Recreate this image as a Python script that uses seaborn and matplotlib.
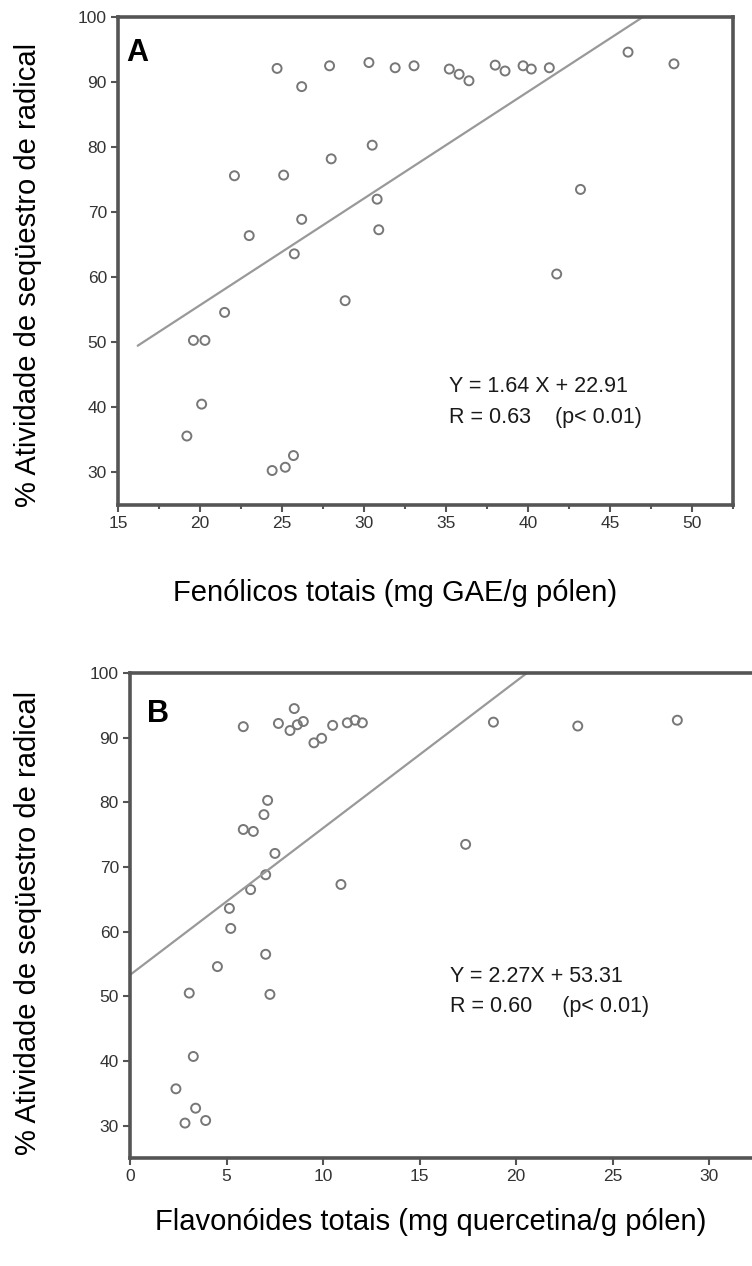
import matplotlib
matplotlib.use("Agg")
import matplotlib.pyplot as plt
import seaborn as sns
import numpy as np
import pandas as pd
from matplotlib.ticker import MultipleLocator

# ---------------- data ----------------
fenolicos = [24.7, 26.2, 27.9, 30.3, 31.9, 33.05, 30.5, 28.0, 22.1, 25.1, 30.8, 26.2,
             30.9, 23.0, 25.75, 28.85, 21.5, 19.6, 20.3, 20.1, 19.2, 24.4, 25.2, 25.7,
             35.2, 35.8, 36.4, 38.0, 38.6, 39.7, 40.2, 41.3, 46.1, 48.9, 43.2, 41.75]
atividade_A = [92.1, 89.3, 92.5, 93.0, 92.2, 92.5, 80.3, 78.2, 75.6, 75.7, 72.0, 68.9,
               67.3, 66.4, 63.6, 56.4, 54.6, 50.3, 50.3, 40.5, 35.6, 30.3, 30.8, 32.6,
               92.0, 91.2, 90.2, 92.6, 91.7, 92.5, 92.0, 92.2, 94.6, 92.8, 73.5, 60.5]

flavonoides = [5.87, 7.69, 8.51, 8.29, 8.67, 8.98, 9.53, 9.93, 10.5, 11.26, 11.66, 12.04,
               7.13, 6.94, 5.87, 6.39, 7.51, 7.03, 6.25, 10.93, 5.15, 5.22, 7.03, 4.53,
               3.07, 7.25, 3.28, 2.38, 3.4, 2.85, 3.92, 18.83, 23.2, 28.36, 17.39]
atividade_B = [91.7, 92.2, 94.5, 91.1, 92.0, 92.5, 89.2, 89.9, 91.9, 92.3, 92.7, 92.3,
               80.3, 78.1, 75.8, 75.5, 72.1, 68.8, 66.5, 67.3, 63.6, 60.5, 56.5, 54.6,
               50.5, 50.3, 40.7, 35.7, 32.7, 30.4, 30.8, 92.4, 91.8, 92.7, 73.5]

slope_A, intercept_A = 1.64, 22.91
slope_B, intercept_B = 2.27, 53.31
fit_range_A = [16.2, 50.0]
fit_range_B = [0.0, 25.0]

eq_A = ["Y = 1.64 X + 22.91", "R = 0.63    (p< 0.01)"]
eq_B = ["Y = 2.27X + 53.31", "R = 0.60     (p< 0.01)"]
ylabel = "% Atividade de seqüestro de radical"
xlabel_A = "Fenólicos totais (mg GAE/g pólen)"
xlabel_B = "Flavonóides totais (mg quercetina/g pólen)"

# ---------------- style ----------------
sns.set_theme(style="white")
plt.rcParams["font.family"] = ["Liberation Sans", "DejaVu Sans"]

W, H = 752, 1266
fig = plt.figure(figsize=(W / 100, H / 100), dpi=100)

spine_c = "#555555"
pt_c = "#777777"
line_c = "#999999"


def make_axes(left_px, top_px, right_px, bottom_px):
    return fig.add_axes([left_px / W, 1 - bottom_px / H,
                         (right_px - left_px) / W, (bottom_px - top_px) / H])


def style_axes(ax):
    for s in ax.spines.values():
        s.set_visible(True)
        s.set_color(spine_c)
        s.set_linewidth(2.6)
    ax.tick_params(axis="both", which="major", direction="out", length=5, width=1.5,
                   color=spine_c, labelsize=12.5, labelcolor="#333333",
                   left=True, bottom=True, pad=3)
    ax.tick_params(axis="x", which="minor", direction="out", length=3, width=1.5,
                   color=spine_c, bottom=True)
    ax.set_facecolor("white")


# ---------------- panel A ----------------
axA = make_axes(118, 17, 733, 505)
dfA = pd.DataFrame({"x": fenolicos, "y": atividade_A})
sns.scatterplot(data=dfA, x="x", y="y", ax=axA, marker="o", s=42,
                facecolors="none", edgecolor=pt_c, linewidth=1.4)
lxA = np.array(fit_range_A)
sns.lineplot(x=lxA, y=slope_A * lxA + intercept_A, ax=axA, color=line_c, linewidth=1.6)
axA.set_xlim(15, 52.5)
axA.set_ylim(25, 100)
axA.xaxis.set_major_locator(MultipleLocator(5))
axA.xaxis.set_minor_locator(MultipleLocator(2.5))
axA.set_yticks([30, 40, 50, 60, 70, 80, 90, 100])
style_axes(axA)
axA.set_xlabel(xlabel_A, fontsize=21, color="black")
axA.set_ylabel(ylabel, fontsize=21, color="black")
axA.xaxis.label.set_va("center")
axA.yaxis.label.set_va("center")
axA.xaxis.set_label_coords((395 - 118) / 615, (505 - 593) / 488)
axA.yaxis.set_label_coords((28 - 118) / 615, (505 - 275) / 488)
axA.text(0.014, 0.926, "A", transform=axA.transAxes, fontsize=22, fontweight="bold",
         ha="left", va="center", color="black")
axA.text(35.2, 43.2, eq_A[0], fontsize=15.5, ha="left", va="center", color="#1a1a1a")
axA.text(35.2, 38.4, eq_A[1], fontsize=15.5, ha="left", va="center", color="#1a1a1a")

# ---------------- panel B ----------------
xmaxB = 34.0
right_B = 130 + xmaxB * 19.3
axB = make_axes(130, 673, right_B, 1158)
dfB = pd.DataFrame({"x": flavonoides, "y": atividade_B})
sns.scatterplot(data=dfB, x="x", y="y", ax=axB, marker="o", s=42,
                facecolors="none", edgecolor=pt_c, linewidth=1.4)
lxB = np.array(fit_range_B)
sns.lineplot(x=lxB, y=slope_B * lxB + intercept_B, ax=axB, color=line_c, linewidth=1.6)
axB.set_xlim(0, xmaxB)
axB.set_ylim(25, 100)
axB.set_xticks([0, 5, 10, 15, 20, 25, 30])
axB.set_yticks([30, 40, 50, 60, 70, 80, 90, 100])
style_axes(axB)
wB = right_B - 130
axB.set_xlabel(xlabel_B, fontsize=21, color="black")
axB.set_ylabel(ylabel, fontsize=21, color="black")
axB.xaxis.label.set_va("center")
axB.yaxis.label.set_va("center")
axB.xaxis.set_label_coords((431 - 130) / wB, (1158 - 1222) / 485)
axB.yaxis.set_label_coords((28 - 130) / wB, (1158 - 923) / 485)
axB.text((147 - 130) / wB, 0.915, "B", transform=axB.transAxes, fontsize=22,
         fontweight="bold", ha="left", va="center", color="black")
axB.text(16.6, 53.0, eq_B[0], fontsize=15.5, ha="left", va="center", color="#1a1a1a")
axB.text(16.6, 48.4, eq_B[1], fontsize=15.5, ha="left", va="center", color="#1a1a1a")

fig.savefig("out.png", dpi=100, facecolor="white")
